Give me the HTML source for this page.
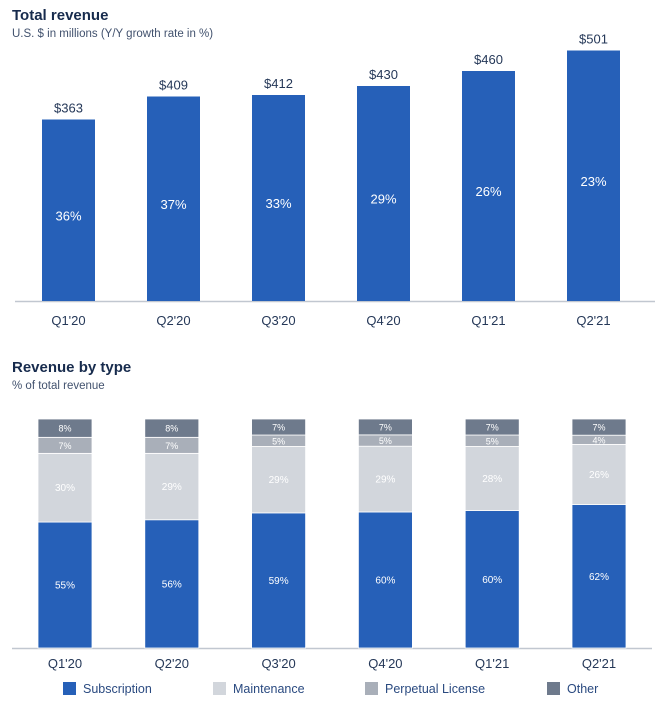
<!DOCTYPE html>
<html><head><meta charset="utf-8"><style>
body{margin:0;background:#fff;width:665px;height:716px;overflow:hidden;font-family:"Liberation Sans",sans-serif}
</style></head><body>
<svg width="665" height="716" xmlns="http://www.w3.org/2000/svg" font-family="Liberation Sans, sans-serif">
<text x="12" y="20" font-size="15" font-weight="bold" fill="#172b4d">Total revenue</text>
<text x="12" y="37" font-size="11.5" fill="#42526e">U.S. $ in millions (Y/Y growth rate in %)</text>
<line x1="15" y1="301.5" x2="655" y2="301.5" stroke="#c1c7d0" stroke-width="1.5"/>
<g id="topg"></g>
<text x="12" y="372" font-size="15" font-weight="bold" fill="#172b4d">Revenue by type</text>
<text x="12" y="389" font-size="11.5" fill="#42526e">% of total revenue</text>
<line x1="12" y1="648.5" x2="652" y2="648.5" stroke="#c1c7d0" stroke-width="1.5"/>
<g id="botg"></g>
<g id="legendg"></g>
</svg>
<script>
const categories=["Q1'20","Q2'20","Q3'20","Q4'20","Q1'21","Q2'21"];
const revenue=[363,409,412,430,460,501];
const growth=[36,37,33,29,26,23];
const subscription=[55,56,59,60,60,62];
const maintenance=[30,29,29,29,28,26];
const perpetual=[7,7,5,5,5,4];
const other=[8,8,7,7,7,7];
const NS="http://www.w3.org/2000/svg";
function mk(t,a,txt){const e=document.createElementNS(NS,t);for(const k in a)e.setAttribute(k,a[k]);if(txt!==undefined)e.textContent=txt;return e;}
const gTop=document.getElementById('topg'),gBot=document.getElementById('botg'),gLeg=document.getElementById('legendg');
const yTop=v=>301-v*0.5;
const xTop=i=>42+i*105;
const yBot=f=>648-f*229;
const xBot=i=>38+i*106.8;
categories.forEach((c,i)=>{
  const x=xTop(i),y=yTop(revenue[i]);
  const r=mk('rect',{x:x,y:y,width:53,height:301-y,fill:'#2660b8'});
  
  
  gTop.appendChild(r);
  const v=mk('text',{x:x+26.5,y:y-7,'font-size':13,fill:'#253858','text-anchor':'middle'},'$'+revenue[i]);
  
  
  gTop.appendChild(v);
  const g=mk('text',{x:x+26.5,y:(y+301)/2+10,'font-size':13,fill:'#fff','text-anchor':'middle'},growth[i]+'%');
  
  
  gTop.appendChild(g);
  const l=mk('text',{x:x+26.5,y:325,'font-size':13,fill:'#253858','text-anchor':'middle'},c);
  
  
  gTop.appendChild(l);
  const bx=xBot(i);
  const segs=[[subscription[i],'#2660b8',10],[maintenance[i],'#d2d6dc',10],[perpetual[i],'#a9afb9',9],[other[i],'#6e7a8c',9]];
  const total=segs.reduce((a,s)=>a+s[0],0);
  let acc=0;
  segs.forEach((s,j)=>{
    const y0=yBot(acc/total),y1=yBot((acc+s[0])/total);acc+=s[0];
    const rr=mk('rect',{x:bx,y:y1,width:54,height:y0-y1,fill:s[1],stroke:'#fff','stroke-width':0.8});
    
    
    gBot.appendChild(rr);
    const t=mk('text',{x:bx+27,y:(y0+y1)/2+3.5,'font-size':s[2],fill:'#fff','text-anchor':'middle'},s[0]+'%');
    
    
    gBot.appendChild(t);
  });
  const bl=mk('text',{x:bx+27,y:668,'font-size':13,fill:'#253858','text-anchor':'middle'},c);
  
  
  gBot.appendChild(bl);
});
const legNames=['Subscription','Maintenance','Perpetual License','Other'];
const legCols=['#2660b8','#d2d6dc','#a9afb9','#6e7a8c'];
const legX=[63,213,365,547];
legNames.forEach((n,i)=>{
  const s=mk('rect',{x:legX[i],y:682,width:13,height:13,fill:legCols[i]});
  
  
  gLeg.appendChild(s);
  const t=mk('text',{x:legX[i]+20,y:693,'font-size':12.5,fill:'#2a4a80'},n);
  
  
  gLeg.appendChild(t);
});
</script>
</body></html>
